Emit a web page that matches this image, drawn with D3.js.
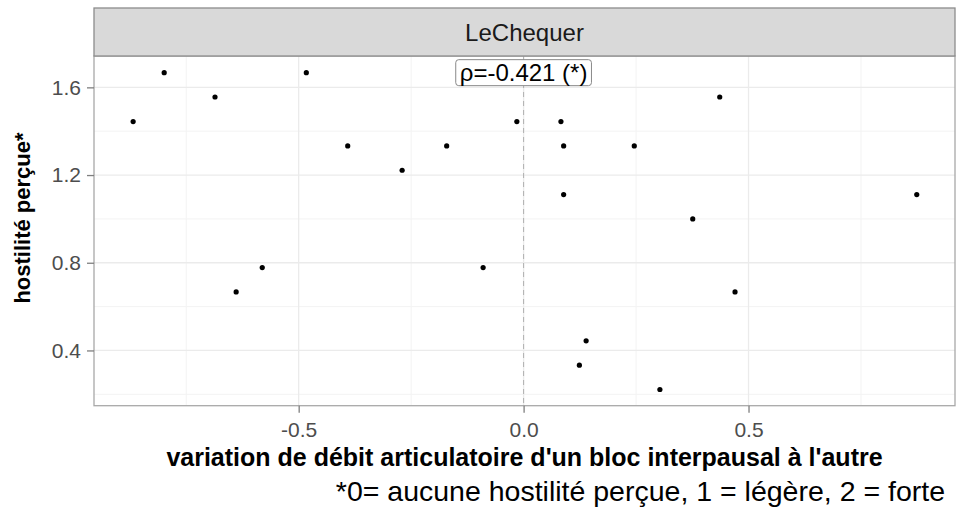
<!DOCTYPE html>
<html><head><meta charset="utf-8">
<script src="https://cdn.jsdelivr.net/npm/d3@7"></script>
<style>body{margin:0;background:#fff}svg{display:block}text{font-family:"Liberation Sans",Arial,sans-serif}</style>
</head><body>
<svg id="c" width="957" height="510"></svg>
<script>
const xVals = [-0.868,-0.799,-0.686,-0.483,-0.391,-0.270,-0.171,-0.015,0.083,0.089,0.089,0.246,0.436,0.874,-0.581,-0.639,-0.090,0.139,0.124,0.303,0.376,0.470];
const yVals = [1.444,1.667,1.556,1.667,1.333,1.222,1.333,1.444,1.444,1.333,1.111,1.333,1.556,1.111,0.778,0.667,0.778,0.444,0.333,0.222,1.000,0.667];
const xTicks = [-0.5,0,0.5];
const xTickLabels = ["-0.5","0.0","0.5"];
const yTicks = [0.4,0.8,1.2,1.6];
const yTickLabels = ["0.4","0.8","1.2","1.6"];
const facet = "LeChequer";
const rhoLabel = "ρ=-0.421 (*)";
const xTitle = "variation de débit articulatoire d'un bloc interpausal à l'autre";
const yTitle = "hostilité perçue*";
const caption = "*0= aucune hostilité perçue, 1 = légère, 2 = forte";

const svg = d3.select("#c");
const L=94, R=955, T=56, B=405.7, stripTop=8;
const x = d3.scaleLinear().domain([-0.955,0.959]).range([L,R]);
const y = d3.scaleLinear().domain([0.148,1.743]).range([B,T]);

svg.append("rect").attr("x",L).attr("y",T).attr("width",R-L).attr("height",B-T).attr("fill","#fff");
const xMinor = [-0.75,-0.25,0.25,0.75], yMinor=[0.2,0.6,1.0,1.4];
svg.append("g").selectAll("line").data(xMinor).join("line")
 .attr("x1",d=>x(d)).attr("x2",d=>x(d)).attr("y1",T).attr("y2",B).attr("stroke","#f3f3f3").attr("stroke-width",1);
svg.append("g").selectAll("line").data(yMinor).join("line")
 .attr("y1",d=>y(d)).attr("y2",d=>y(d)).attr("x1",L).attr("x2",R).attr("stroke","#f3f3f3").attr("stroke-width",1);
svg.append("g").selectAll("line").data(xTicks).join("line")
 .attr("x1",d=>x(d)).attr("x2",d=>x(d)).attr("y1",T).attr("y2",B).attr("stroke","#ebebeb").attr("stroke-width",1.3);
svg.append("g").selectAll("line").data(yTicks).join("line")
 .attr("y1",d=>y(d)).attr("y2",d=>y(d)).attr("x1",L).attr("x2",R).attr("stroke","#ebebeb").attr("stroke-width",1.3);

svg.append("line").attr("x1",x(0)).attr("x2",x(0)).attr("y1",T).attr("y2",B)
 .attr("stroke","#b0b0b0").attr("stroke-width",1).attr("stroke-dasharray","5,4");

svg.append("g").selectAll("circle").data(xVals.map((v,i)=>[v,yVals[i]])).join("circle")
 .attr("cx",d=>x(d[0])).attr("cy",d=>y(d[1])).attr("r",2.6).attr("fill","#000");

const lg = svg.append("g");
const lt = lg.append("text").attr("x",x(0)).attr("y",y(1.667)).attr("text-anchor","middle")
 .attr("dominant-baseline","central").attr("font-size",24).attr("fill","#000").text(rhoLabel);
const bb = lt.node().getBBox();
lg.insert("rect","text").attr("x",bb.x-4).attr("y",y(1.667)-13).attr("width",bb.width+8).attr("height",26)
 .attr("rx",3).attr("fill","#fff").attr("stroke","#888").attr("stroke-width",1);

svg.append("rect").attr("x",L).attr("y",T).attr("width",R-L).attr("height",B-T).attr("fill","none").attr("stroke","#a8a8a8").attr("stroke-width",1.3);
svg.append("rect").attr("x",L).attr("y",stripTop).attr("width",R-L).attr("height",T-stripTop)
 .attr("fill","#d9d9d9").attr("stroke","#8c8c8c").attr("stroke-width",1.3);
svg.append("text").attr("x",(L+R)/2).attr("y",(stripTop+T)/2).attr("text-anchor","middle").attr("dominant-baseline","central")
 .attr("font-size",24).attr("fill","#1a1a1a").text(facet);

const xa = svg.append("g").attr("transform",`translate(0,${B})`)
 .call(d3.axisBottom(x).tickValues(xTicks).tickFormat((d,i)=>xTickLabels[i]).tickSize(7).tickPadding(9));
const ya = svg.append("g").attr("transform",`translate(${L},0)`)
 .call(d3.axisLeft(y).tickValues(yTicks).tickFormat((d,i)=>yTickLabels[i]).tickSize(7).tickPadding(6));
[xa,ya].forEach(a=>{a.select(".domain").remove();
 a.selectAll(".tick line").attr("stroke","#7f7f7f").attr("stroke-width",1.3);
 a.selectAll(".tick text").attr("font-size",21).attr("fill","#4d4d4d").attr("font-family","Liberation Sans, Arial, sans-serif");});

svg.append("text").attr("x",(L+R)/2).attr("y",466).attr("text-anchor","middle").attr("font-size",25).attr("font-weight","bold").attr("fill","#000").text(xTitle);
svg.append("text").attr("transform",`translate(30,218) rotate(-90)`).attr("text-anchor","middle").attr("font-size",22).attr("font-weight","bold").attr("fill","#000").text(yTitle);
svg.append("text").attr("x",945).attr("y",501).attr("text-anchor","end").attr("font-size",28.5).attr("fill","#000").text(caption);
</script>
</body></html>
